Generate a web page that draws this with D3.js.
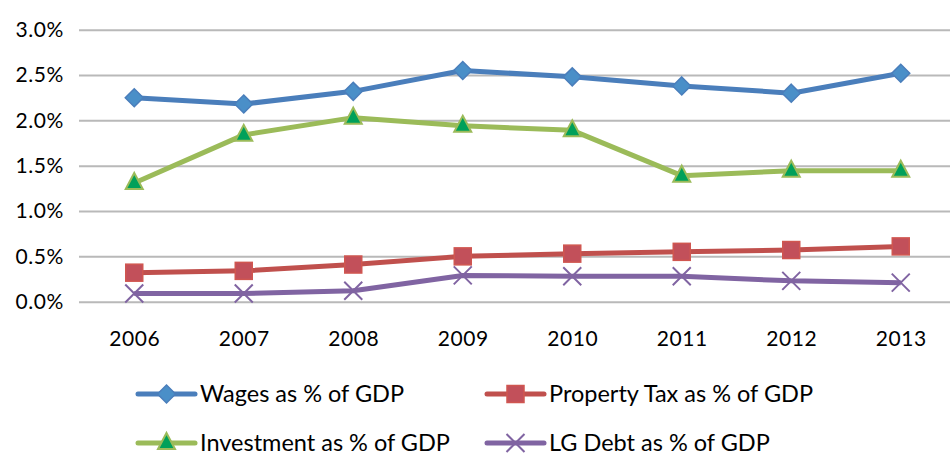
<!DOCTYPE html>
<html>
<head>
<meta charset="utf-8">
<script src="https://cdn.jsdelivr.net/npm/d3@7"></script>
<style>
  html, body { margin: 0; padding: 0; background: #fff; }
  svg { display: block; font-family: Lato, "Open Sans", sans-serif; }
</style>
</head>
<body>
<svg id="chart" width="950" height="455"></svg>
<script>
// Years on the horizontal axis
const years = ["2006", "2007", "2008", "2009", "2010", "2011", "2012", "2013"];

// Series values, as shares of GDP
const wages       = [0.0225, 0.0218, 0.0232, 0.0255, 0.0248, 0.0238, 0.0230, 0.0252];
const propertyTax = [0.0032, 0.0034, 0.0041, 0.0050, 0.0053, 0.0055, 0.0057, 0.0061];
const investment  = [0.0131, 0.0184, 0.0203, 0.0194, 0.0189, 0.0139, 0.01445, 0.01445];
const lgDebt      = [0.0009, 0.0009, 0.0012, 0.0029, 0.0028, 0.0028, 0.0023, 0.0021];

// Y axis ticks
const yTicks = [0, 0.005, 0.01, 0.015, 0.02, 0.025, 0.03];

const series = [
  { name: "Wages as % of GDP", values: wages, line: "#4a7ebb", marker: "diamond", fill: "#4a8fc8", stroke: "#4a7ebb" },
  { name: "Property Tax as % of GDP", values: propertyTax, line: "#c0504d", marker: "square", fill: "#c2505a", stroke: "#d05650" },
  { name: "Investment as % of GDP", values: investment, line: "#9bbb59", marker: "triangle", fill: "#00a05a", stroke: "#9bbb59" },
  { name: "LG Debt as % of GDP", values: lgDebt, line: "#8064a2", marker: "cross", fill: "none", stroke: "#8064a2" }
];

const svg = d3.select("#chart");

const x = d3.scalePoint().domain(years).range([79.5, 955.5]).padding(0.5);
const y = d3.scaleLinear().domain([0, 0.03]).range([301.7, 29.7]);

// Horizontal gridlines with percentage labels
const yAxis = d3.axisLeft(y)
  .tickValues(yTicks)
  .tickFormat(d3.format(".1%"))
  .tickSize(-(960 - 79))
  .tickPadding(15);

const gy = svg.append("g").attr("transform", "translate(79,0)").call(yAxis);
gy.select(".domain").remove();
gy.selectAll(".tick line").attr("stroke", "#b9b9b9").attr("stroke-width", 2);
gy.selectAll(".tick text")
  .attr("fill", "#000").attr("font-size", 21).attr("letter-spacing", "0.6px")
  .attr("font-family", "Lato, sans-serif");

// Year labels
const xAxis = d3.axisBottom(x).tickSize(0).tickPadding(29);
const gx = svg.append("g").attr("transform", "translate(0,301.7)").call(xAxis);
gx.select(".domain").remove();
gx.selectAll(".tick text")
  .attr("fill", "#000").attr("font-size", 21).attr("letter-spacing", "0.6px")
  .attr("font-family", "Lato, sans-serif");

// Marker shapes
function drawMarker(g, s, cx, cy) {
  if (s.marker === "diamond") {
    g.append("path")
      .attr("d", `M${cx},${cy - 9}L${cx + 9},${cy}L${cx},${cy + 9}L${cx - 9},${cy}Z`)
      .attr("fill", s.fill).attr("stroke", s.stroke).attr("stroke-width", 1.5);
  } else if (s.marker === "square") {
    g.append("rect")
      .attr("x", cx - 8.5).attr("y", cy - 8.5).attr("width", 17).attr("height", 17)
      .attr("fill", s.fill).attr("stroke", s.stroke).attr("stroke-width", 1.5);
  } else if (s.marker === "triangle") {
    g.append("path")
      .attr("d", `M${cx},${cy - 10}L${cx + 8.5},${cy + 6}L${cx - 8.5},${cy + 6}Z`)
      .attr("fill", s.fill).attr("stroke", s.stroke).attr("stroke-width", 2);
  } else if (s.marker === "cross") {
    g.append("path")
      .attr("d", `M${cx - 9},${cy - 9}L${cx + 9},${cy + 9}M${cx + 9},${cy - 9}L${cx - 9},${cy + 9}`)
      .attr("fill", "none").attr("stroke", s.stroke).attr("stroke-width", 2);
  }
}

const line = d3.line().x((d, i) => x(years[i])).y(d => y(d));

// Lines first, markers on top
series.forEach(s => {
  svg.append("path")
    .datum(s.values)
    .attr("d", line)
    .attr("fill", "none")
    .attr("stroke", s.line)
    .attr("stroke-width", 5)
    .attr("stroke-linejoin", "round");
});
series.forEach(s => {
  const g = svg.append("g");
  s.values.forEach((v, i) => drawMarker(g, s, x(years[i]), y(v)));
});

// Legend in two rows, two columns
const legendPos = [
  { x: 138, y: 394 },
  { x: 487, y: 394 },
  { x: 138, y: 443 },
  { x: 487, y: 443 }
];
series.forEach((s, i) => {
  const p = legendPos[i];
  const g = svg.append("g");
  g.append("line")
    .attr("x1", p.x).attr("x2", p.x + 57).attr("y1", p.y).attr("y2", p.y)
    .attr("stroke", s.line).attr("stroke-width", 5).attr("stroke-linecap", "round");
  drawMarker(g, s, p.x + 28.5, p.y);
  g.append("text")
    .attr("x", p.x + 62).attr("y", p.y)
    .attr("dy", "0.35em")
    .attr("font-size", 23.5)
    .attr("fill", "#000")
    .text(s.name);
});
</script>
</body>
</html>
